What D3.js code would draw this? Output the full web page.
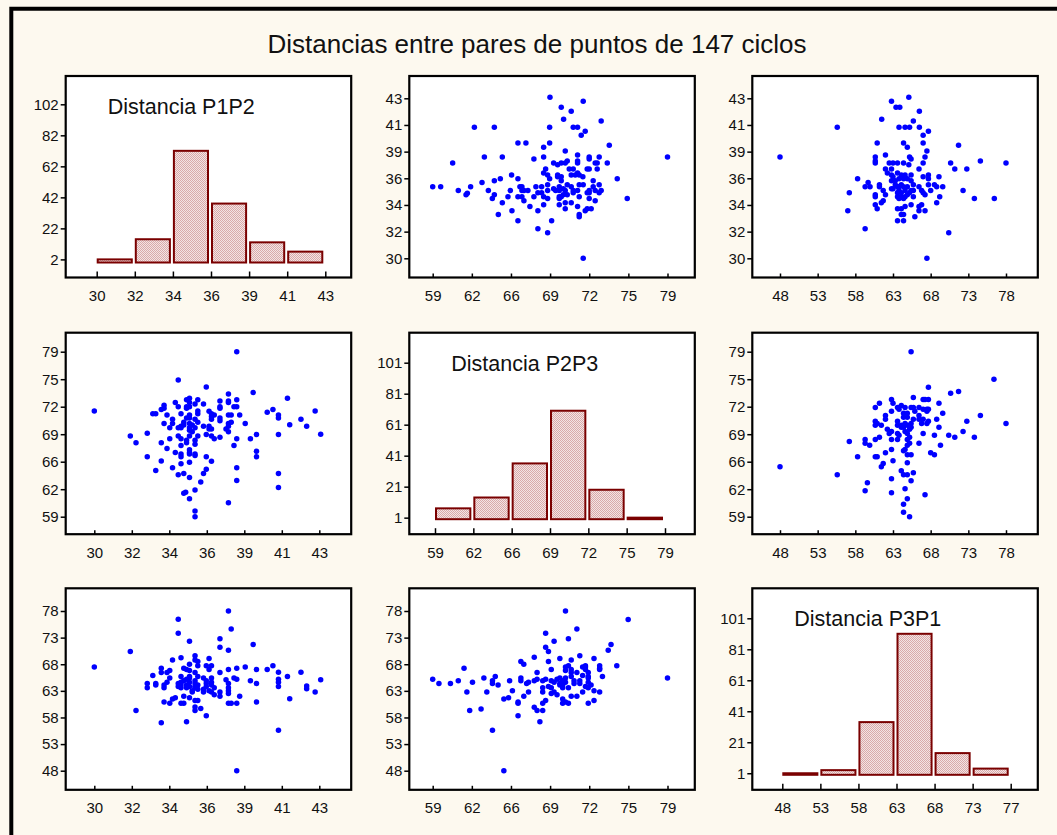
<!DOCTYPE html>
<html>
<head>
<meta charset="utf-8">
<script src="https://cdn.jsdelivr.net/npm/d3@7"></script>
<style>
  body { margin: 0; background: #fdf9ef; }
  svg { display: block; }
  text { font-family: "Liberation Sans", Arial, Helvetica, sans-serif; }
</style>
</head>
<body>
<svg id="chart" width="1057" height="835"></svg>
<script>
// ---------------- data ----------------
const chartTitle = "Distancias entre pares de puntos de 147 ciclos";
const variableNames = ["Distancia P1P2", "Distancia P2P3", "Distancia P3P1"];

// axis extent of each distance (first and last bin edge)
const extentP1P2 = [30, 43];
const extentP2P3 = [59, 79];
const extentP3P1 = [48, 78];

// tick labels at the bin edges
const ticksP1P2 = ["30", "32", "34", "36", "39", "41", "43"];
const ticksP2P3 = ["59", "62", "66", "69", "72", "75", "79"];
const ticksP3P1 = ["48", "53", "58", "63", "68", "73", "78"];
const histTicksP3P1 = ["48", "53", "58", "63", "68", "73", "77"];

// histogram bin counts (6 bins each)
const countsP1P2 = [2, 15, 72, 38, 13, 7];
const countsP2P3 = [7, 14, 36, 70, 19, 1];
const countsP3P1 = [1, 3, 34, 91, 14, 4];

// histogram frequency ticks
const freqTicksP1P2 = [2, 22, 42, 62, 82, 102];
const freqTicksP2P3 = [1, 21, 41, 61, 81, 101];
const freqTicksP3P1 = [1, 21, 41, 61, 81, 101];

// pairs [P1P2, P2P3]
const pairsP1P2P2P3 = [
  [43.08,68.99],[42.27,69.95],[42.76,71.82],[41.94,70.80],[41.29,70.15],[41.16,73.35],[40.64,62.55],[40.64,64.25],
  [40.64,68.96],[40.64,70.97],[40.64,71.34],[40.32,71.99],[39.99,71.65],[39.37,66.26],[39.37,66.94],[39.37,68.96],
  [39.18,74.04],[39.02,68.45],[38.72,70.29],[38.40,71.34],[37.75,60.70],[38.23,63.40],[38.23,64.93],[38.07,67.62],
  [38.23,68.45],[38.23,72.33],[38.23,73.18],[38.07,72.33],[37.75,69.30],[37.61,69.64],[37.75,69.95],[37.75,70.29],
  [37.91,70.46],[37.91,71.34],[37.75,71.34],[37.75,72.84],[37.75,73.01],[37.75,73.87],[37.26,68.62],[37.26,70.63],
  [37.26,70.97],[37.26,72.16],[37.26,72.33],[37.26,73.01],[36.93,68.45],[36.77,68.79],[36.77,69.64],[36.77,70.80],
  [36.77,71.14],[36.93,71.34],[36.77,71.48],[36.63,71.79],[36.77,65.72],[36.63,69.64],[36.63,69.95],[36.47,66.26],
  [36.47,74.72],[36.31,69.95],[36.31,72.67],[36.47,64.76],[36.31,64.25],[36.15,63.20],[35.82,59.00],[35.82,59.68],
  [35.82,62.23],[35.82,66.43],[35.82,66.60],[35.82,67.79],[35.82,68.28],[35.98,68.79],[35.66,69.30],[35.82,69.78],
  [35.66,70.12],[35.98,70.46],[35.82,70.80],[35.98,71.48],[35.98,71.82],[35.50,72.33],[35.82,72.67],[35.98,73.18],
  [35.50,61.18],[35.50,63.74],[35.50,65.61],[35.50,66.60],[35.50,66.77],[35.50,67.11],[35.50,69.47],[35.50,69.78],
  [35.50,70.29],[35.50,70.97],[35.50,71.34],[35.33,72.16],[35.33,72.33],[35.50,72.84],[35.50,73.35],[35.33,73.18],
  [35.17,61.84],[35.28,61.95],[35.17,64.25],[35.33,67.96],[35.33,68.28],[35.17,70.46],[35.33,70.97],[35.01,69.78],
  [35.01,66.26],[35.01,66.60],[35.01,65.41],[35.01,67.62],[35.01,68.45],[35.01,69.95],[35.01,71.48],[34.85,64.08],
  [34.68,66.77],[34.85,68.79],[34.85,69.78],[35.17,70.12],[34.85,72.33],[34.68,72.84],[34.85,75.57],[34.52,64.93],
  [34.36,68.45],[34.36,69.78],[34.52,70.29],[34.52,70.80],[34.20,67.28],[34.20,71.34],[34.03,70.29],[34.03,72.16],
  [34.03,72.50],[33.87,65.75],[33.87,67.96],[33.87,71.99],[33.55,64.59],[33.55,71.48],[33.38,71.48],[33.06,66.26],
  [33.06,69.13],[32.41,67.96],[32.08,68.79],[30.00,71.82],[38.23,79.00],[36.47,68.96],[35.50,68.79]
];

// pairs [P1P2, P3P1]
const pairsP1P2P3P1 = [
  [43.08,65.1],[42.76,62.8],[42.27,63.4],[42.27,63.9],[41.94,66.5],[41.29,61.5],[41.16,65.7],[40.64,55.6],
  [40.64,63.8],[40.64,64.6],[40.64,65.2],[40.64,66.5],[40.32,67.7],[39.99,67.0],[39.37,60.9],[39.37,64.4],
  [39.37,67.0],[39.18,71.7],[39.02,64.9],[38.72,67.5],[38.40,62.0],[38.23,48.0],[38.23,60.65],[37.75,60.65],
  [38.23,65.2],[38.07,65.4],[38.23,67.25],[37.91,60.65],[37.75,62.5],[37.75,63.0],[37.75,63.6],[37.75,64.4],
  [37.61,65.1],[37.75,67.0],[37.75,70.65],[37.91,74.6],[37.75,78.0],[37.26,62.0],[37.26,62.8],[37.26,66.45],
  [37.26,71.2],[37.26,72.8],[36.93,62.25],[36.93,63.6],[36.77,64.1],[36.77,64.6],[36.77,65.4],[36.63,67.0],
  [36.77,67.7],[36.77,62.8],[36.63,63.0],[36.47,58.3],[36.47,64.4],[36.47,67.7],[36.63,69.1],[36.31,62.8],
  [36.31,63.3],[36.15,59.7],[36.31,65.4],[35.82,59.3],[35.82,59.95],[35.98,61.2],[35.82,61.2],[35.98,63.3],
  [35.82,63.6],[35.98,64.1],[35.82,64.4],[35.82,64.9],[35.98,65.7],[35.82,66.45],[35.98,67.7],[35.98,68.5],
  [35.82,69.6],[35.82,68.8],[35.66,62.8],[35.66,63.0],[35.50,63.8],[35.50,64.6],[35.50,65.4],[35.50,66.8],
  [35.50,68.0],[35.50,72.3],[35.50,61.7],[35.33,57.2],[35.17,60.65],[35.17,62.0],[35.17,64.9],[35.33,67.0],
  [35.17,67.25],[35.01,60.65],[35.01,63.6],[35.01,64.1],[35.01,64.6],[35.01,65.7],[35.01,69.2],[34.85,73.8],
  [34.85,76.45],[34.85,63.8],[34.85,64.4],[34.68,61.7],[34.52,61.45],[34.52,68.8],[34.36,60.65],[34.36,66.8],
  [34.36,65.4],[34.03,60.9],[34.03,63.6],[34.03,64.1],[34.20,64.6],[34.20,66.45],[33.87,57.0],[33.87,66.45],
  [33.87,67.25],[33.55,64.1],[33.55,64.4],[33.38,65.9],[33.06,63.6],[33.06,64.4],[32.41,59.3],[32.08,70.4],
  [30.00,67.5],[36.47,63.8],[36.47,64.9],[35.82,63.8],[35.33,64.1],[35.33,65.2],[35.33,63.6],[35.50,65.7]
];

// pairs [P2P3, P3P1]
const pairsP2P3P3P1 = [
  [79.00,65.4],[75.65,76.4],[74.68,67.7],[73.95,70.65],[74.19,71.7],[73.22,62.8],[72.74,63.0],[72.74,61.2],
  [73.46,65.7],[73.22,67.0],[73.22,67.25],[73.22,67.7],[72.74,69.1],[72.25,60.65],[72.25,63.6],[72.49,64.1],
  [72.25,64.6],[72.25,65.4],[72.25,65.7],[72.25,66.45],[72.01,67.0],[72.01,67.5],[72.01,67.7],[71.77,62.8],
  [71.53,64.4],[71.53,64.9],[71.77,65.9],[71.53,69.6],[71.28,62.0],[70.80,62.0],[71.04,64.4],[71.04,64.9],
  [71.28,66.45],[70.80,67.0],[71.28,74.6],[70.56,60.65],[70.07,60.65],[70.07,61.45],[70.56,63.6],[70.31,64.6],
  [70.31,65.4],[70.56,67.7],[70.80,68.8],[70.56,72.8],[70.31,78.0],[70.31,60.9],[69.59,62.25],[69.34,62.8],
  [70.07,63.6],[70.07,64.1],[69.83,64.4],[70.07,64.9],[69.59,65.2],[69.83,65.4],[70.31,66.8],[70.31,67.5],
  [69.83,69.1],[69.34,72.3],[68.37,59.3],[68.62,61.2],[68.37,60.65],[69.10,62.5],[68.37,62.8],[69.10,63.6],
  [68.86,63.8],[69.10,64.9],[68.62,65.2],[69.10,67.0],[68.86,68.5],[68.86,70.4],[68.62,71.2],[68.62,73.8],
  [68.13,57.2],[68.37,64.9],[67.89,65.2],[67.89,66.45],[67.89,59.3],[67.65,59.9],[67.65,64.9],[67.65,69.3],
  [66.76,62.0],[67.16,62.8],[67.00,64.4],[67.16,64.6],[66.76,68.0],[66.51,68.5],[66.51,64.9],[66.51,65.4],
  [66.27,58.3],[66.27,60.65],[66.27,60.9],[65.79,63.0],[65.46,61.7],[65.06,61.45],[65.55,64.9],[65.06,48.0],
  [64.09,55.6],[64.57,64.1],[64.09,64.4],[63.61,62.8],[64.33,65.7],[64.09,64.9],[63.36,65.4],[63.12,59.6],
  [62.15,59.3],[62.39,64.6],[61.67,67.25],[61.91,62.8],[61.18,64.9],[60.51,64.4],[59.53,64.4],[59.00,65.2],
  [68.37,63.6],[69.83,64.1],[72.01,63.8],[70.80,66.45],[71.77,67.5],[70.80,65.7],[69.34,64.6]
];

// ---------------- layout ----------------
const W = 1057, H = 835;
const colLeft = [65.7, 409.3, 752.3];
const rowTop = [76, 332.7, 588.3];
const panelW = 285.5, panelH = 201.5;
// where the first/last tick sits inside a panel, per column (scatter / histogram)
const scatterX = [[28.6, 253.6], [23.4, 258.2], [27.7, 253.7]];
const histX = [[31, 259.6], [25.7, 255.7], [30, 258.4]];
// per row: [position of last tick, position of first tick] from the panel top
const scatterY = [[22.3, 182.3], [19, 184], [22.7, 182.4]];
const histBase = 186.5;
const histTopPos = [28.3, 30, 30];

const extents = [extentP1P2, extentP2P3, extentP3P1];
const tickLabels = [ticksP1P2, ticksP2P3, ticksP3P1];
const histTickLabels = [ticksP1P2, ticksP2P3, histTicksP3P1];
const counts = [countsP1P2, countsP2P3, countsP3P1];
const freqTicks = [freqTicksP1P2, freqTicksP2P3, freqTicksP3P1];
const pairs = {
  "0-1": pairsP1P2P2P3,
  "0-2": pairsP1P2P3P1,
  "1-2": pairsP2P3P3P1
};

const edges = e => d3.range(7).map(i => e[0] + i * (e[1] - e[0]) / 6);

const svg = d3.select("#chart");
svg.append("rect").attr("width", W).attr("height", H).attr("fill", "#fdf9ef");

// fine checkered texture for the bars
const defs = svg.append("defs");
const pat = defs.append("pattern").attr("id", "barFill")
  .attr("patternUnits", "userSpaceOnUse").attr("width", 2).attr("height", 2);
pat.append("rect").attr("width", 2).attr("height", 2).attr("fill", "#f3e4e4");
pat.append("rect").attr("width", 1).attr("height", 1).attr("fill", "#d9aaaa");
pat.append("rect").attr("x", 1).attr("y", 1).attr("width", 1).attr("height", 1).attr("fill", "#d9aaaa");

// outer frame (left and top edges)
svg.append("path")
  .attr("d", `M11.3,${H + 10} V8.7 H${W + 10}`)
  .attr("fill", "none").attr("stroke", "#000").attr("stroke-width", 4);

svg.append("text")
  .attr("x", 537).attr("y", 53.3)
  .attr("text-anchor", "middle")
  .attr("font-size", 26).attr("fill", "#111")
  .text(chartTitle);

function styleAxis(g) {
  g.select(".domain").remove();
  g.attr("font-size", null).attr("font-family", null);
  g.selectAll("text").attr("font-size", 15).attr("fill", "#111");
  g.selectAll("line").attr("stroke", "#000").attr("stroke-width", 1.5);
}

for (let r = 0; r < 3; r++) {
  for (let c = 0; c < 3; c++) {
    const x0 = colLeft[c], y0 = rowTop[r];
    const g = svg.append("g");
    g.append("rect").attr("x", x0).attr("y", y0)
      .attr("width", panelW).attr("height", panelH)
      .attr("fill", "#fff");

    if (r === c) {
      // histogram of the distance
      const ex = edges(extents[c]);
      const x = d3.scaleLinear().domain(extents[c]).range([x0 + histX[c][0], x0 + histX[c][1]]);
      const top = freqTicks[r][freqTicks[r].length - 1];
      const y = d3.scaleLinear().domain([0, top]).range([y0 + histBase, y0 + histTopPos[r]]);
      const bins = counts[r].map((n, i) => ({ a: ex[i], b: ex[i + 1], n }));
      g.selectAll("rect.bar").data(bins).join("rect").attr("class", "bar")
        .attr("x", d => x(d.a) + 1)
        .attr("width", d => x(d.b) - x(d.a) - 4)
        .attr("y", d => y(d.n))
        .attr("height", d => Math.max(0.5, y(0) - y(d.n)))
        .attr("fill", "url(#barFill)")
        .attr("stroke", "#7a0000").attr("stroke-width", 2);
      g.append("g").attr("transform", `translate(0,${y0 + panelH})`)
        .call(d3.axisBottom(x).tickValues(ex).tickFormat((d, i) => histTickLabels[c][i])
          .tickSizeInner(-6).tickSizeOuter(0).tickPadding(13))
        .call(styleAxis);
      g.append("g").attr("transform", `translate(${x0},0)`)
        .call(d3.axisLeft(y).tickValues(freqTicks[r]).tickFormat(d3.format("d"))
          .tickSizeInner(5).tickSizeOuter(0).tickPadding(2))
        .call(styleAxis);
      g.append("text").attr("x", x0 + 42).attr("y", y0 + 38)
        .attr("font-size", 21.5).attr("fill", "#111")
        .text(variableNames[r]);
    } else {
      // scatter: x = distance c, y = distance r
      const x = d3.scaleLinear().domain(extents[c]).range([x0 + scatterX[c][0], x0 + scatterX[c][1]]);
      const y = d3.scaleLinear().domain(extents[r]).range([y0 + scatterY[r][1], y0 + scatterY[r][0]]);
      const key = r < c ? `${r}-${c}` : `${c}-${r}`;
      const pts = pairs[key].map(p => r < c ? { xv: p[1], yv: p[0] } : { xv: p[0], yv: p[1] });
      g.selectAll("circle").data(pts).join("circle")
        .attr("cx", d => x(d.xv)).attr("cy", d => y(d.yv))
        .attr("r", 2.75).attr("fill", "#0000ff");
      g.append("g").attr("transform", `translate(0,${y0 + panelH})`)
        .call(d3.axisBottom(x).tickValues(edges(extents[c])).tickFormat((d, i) => tickLabels[c][i])
          .tickSizeInner(-4).tickSizeOuter(0).tickPadding(13))
        .call(styleAxis);
      g.append("g").attr("transform", `translate(${x0},0)`)
        .call(d3.axisLeft(y).tickValues(edges(extents[r])).tickFormat((d, i) => tickLabels[r][i])
          .tickSizeInner(5).tickSizeOuter(0).tickPadding(2))
        .call(styleAxis);
    }
    g.append("rect").attr("x", x0).attr("y", y0)
      .attr("width", panelW).attr("height", panelH)
      .attr("fill", "none").attr("stroke", "#000").attr("stroke-width", 2.2);
  }
}
</script>
</body>
</html>
